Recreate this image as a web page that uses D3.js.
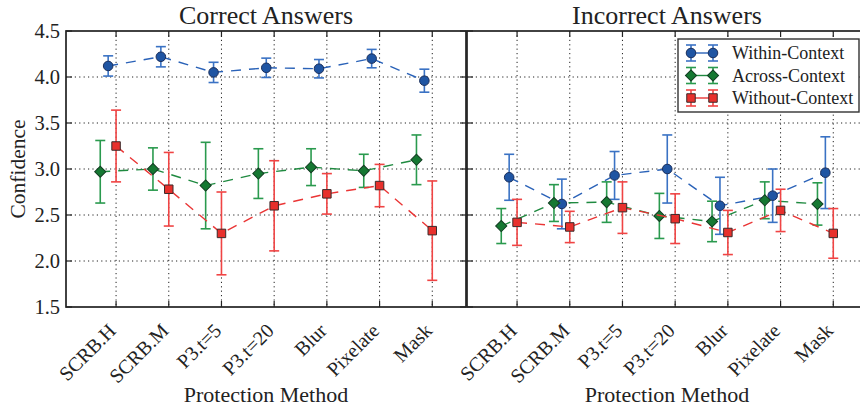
<!DOCTYPE html>
<html>
<head>
<meta charset="utf-8">
<script src="https://cdn.jsdelivr.net/npm/d3@7/dist/d3.min.js"></script>
<style>
  html, body { margin: 0; padding: 0; background: #fff; }
  svg { display: block; }
  text { font-family: "Liberation Serif", "DejaVu Serif", serif; fill: #222; }
</style>
</head>
<body>
<svg id="chart" width="860" height="410"></svg>
<script>
// Protection methods along the x axis
const methods = ["SCRB.H", "SCRB.M", "P3.t=5", "P3.t=20", "Blur", "Pixelate", "Mask"];
const yTickValues = [1.5, 2.0, 2.5, 3.0, 3.5, 4.0, 4.5];
const seriesNames = ["Within-Context", "Across-Context", "Without-Context"];

// Mean confidence and error half-widths, correct answers
const withinCorrect = [4.12, 4.22, 4.05, 4.10, 4.09, 4.20, 3.96];
const withinCorrectErr = [0.11, 0.11, 0.11, 0.105, 0.10, 0.10, 0.125];
const acrossCorrect = [2.97, 3.00, 2.82, 2.95, 3.02, 2.98, 3.10];
const acrossCorrectErr = [0.34, 0.23, 0.47, 0.27, 0.20, 0.18, 0.27];
const withoutCorrect = [3.25, 2.78, 2.30, 2.60, 2.73, 2.82, 2.33];
const withoutCorrectErr = [0.39, 0.40, 0.45, 0.49, 0.22, 0.23, 0.54];

// Mean confidence and error half-widths, incorrect answers
const withinIncorrect = [2.91, 2.62, 2.93, 3.00, 2.60, 2.71, 2.96];
const withinIncorrectErr = [0.25, 0.27, 0.26, 0.37, 0.31, 0.29, 0.39];
const acrossIncorrect = [2.38, 2.63, 2.64, 2.49, 2.43, 2.66, 2.62];
const acrossIncorrectErr = [0.19, 0.20, 0.22, 0.245, 0.22, 0.20, 0.23];
const withoutIncorrect = [2.42, 2.37, 2.58, 2.46, 2.31, 2.55, 2.30];
const withoutIncorrectErr = [0.25, 0.17, 0.28, 0.27, 0.24, 0.23, 0.27];

// square diamond: a square symbol turned by 45 degrees
const styles = [
  { line: "#2a62b8", err: "#3a72c4", fill: "#1f55a3", edge: "#1b2f5c", shape: d3.symbolCircle, size: 72, rot: 0, offset: -0.15 },
  { line: "#1f8a40", err: "#2a9a4e", fill: "#157832", edge: "#123d22", shape: d3.symbolSquare, size: 62, rot: 45, offset: -0.30 },
  { line: "#ea3535", err: "#f04444", fill: "#e8302c", edge: "#3a2a2a", shape: d3.symbolSquare, size: 72, rot: 0, offset: 0 }
];

const panels = [
  { title: "Correct Answers", x0: 66, yLabels: true,
    series: [[withinCorrect, withinCorrectErr], [acrossCorrect, acrossCorrectErr], [withoutCorrect, withoutCorrectErr]] },
  { title: "Incorrect Answers", x0: 467, yLabels: false,
    series: [[withinIncorrect, withinIncorrectErr], [acrossIncorrect, acrossIncorrectErr], [withoutIncorrect, withoutIncorrectErr]] }
];

const svg = d3.select("#chart");
const plotTop = 31, plotBottom = 307, panelW = 400;
const y = d3.scaleLinear().domain([1.5, 4.5]).range([plotBottom, plotTop]);

panels.forEach((p, pi) => {
  const x = d3.scaleLinear().domain([-0.95, 6.64]).range([p.x0, p.x0 + panelW]);
  const g = svg.append("g");

  // dotted grid
  g.selectAll(".vgrid").data(methods).join("line")
    .attr("x1", (d, i) => x(i)).attr("x2", (d, i) => x(i))
    .attr("y1", plotTop).attr("y2", plotBottom)
    .attr("stroke", "#222").attr("stroke-width", 1).attr("stroke-dasharray", "1.2,3.2");
  g.selectAll(".hgrid").data(yTickValues.slice(1, -1)).join("line")
    .attr("x1", p.x0).attr("x2", p.x0 + panelW)
    .attr("y1", d => y(d)).attr("y2", d => y(d))
    .attr("stroke", "#222").attr("stroke-width", 1).attr("stroke-dasharray", "1.2,3.2");

  // inward ticks on all four sides
  const tickLen = 6;
  methods.forEach((m, i) => {
    g.append("line").attr("x1", x(i)).attr("x2", x(i)).attr("y1", plotBottom).attr("y2", plotBottom - tickLen)
      .attr("stroke", "#222").attr("stroke-width", 1.2);
    g.append("line").attr("x1", x(i)).attr("x2", x(i)).attr("y1", plotTop).attr("y2", plotTop + tickLen)
      .attr("stroke", "#222").attr("stroke-width", 1.2);
  });
  yTickValues.forEach(v => {
    g.append("line").attr("x1", p.x0).attr("x2", p.x0 + tickLen).attr("y1", y(v)).attr("y2", y(v))
      .attr("stroke", "#222").attr("stroke-width", 1.2);
    g.append("line").attr("x1", p.x0 + panelW).attr("x2", p.x0 + panelW - tickLen).attr("y1", y(v)).attr("y2", y(v))
      .attr("stroke", "#222").attr("stroke-width", 1.2);
  });

  // series: dashed line, error bars, markers
  p.series.forEach((s, si) => {
    const st = styles[si];
    const vals = s[0], errs = s[1];
    const pts = vals.map((v, i) => ({ i, v, e: errs[i] }));
    const px = d => x(d.i + st.offset);

    g.append("path").datum(pts)
      .attr("d", d3.line().x(px).y(d => y(d.v)))
      .attr("fill", "none").attr("stroke", st.line).attr("stroke-width", 1.4)
      .attr("stroke-dasharray", "10,8");

    const eb = g.append("g").attr("stroke", st.err).attr("stroke-width", 1.6);
    eb.selectAll(".bar").data(pts).join("line")
      .attr("x1", px).attr("x2", px)
      .attr("y1", d => y(d.v - d.e)).attr("y2", d => y(d.v + d.e));
    eb.selectAll(".capT").data(pts).join("line")
      .attr("x1", d => px(d) - 5).attr("x2", d => px(d) + 5)
      .attr("y1", d => y(d.v + d.e)).attr("y2", d => y(d.v + d.e));
    eb.selectAll(".capB").data(pts).join("line")
      .attr("x1", d => px(d) - 5).attr("x2", d => px(d) + 5)
      .attr("y1", d => y(d.v - d.e)).attr("y2", d => y(d.v - d.e));

    g.selectAll(".mk" + si).data(pts).join("path")
      .attr("d", d3.symbol().type(st.shape).size(st.size))
      .attr("transform", d => `translate(${px(d)},${y(d.v)}) rotate(${st.rot})`)
      .attr("fill", st.fill).attr("stroke", st.edge).attr("stroke-width", 1);
  });

  // frame
  g.append("rect").attr("x", p.x0).attr("y", plotTop).attr("width", panelW).attr("height", plotBottom - plotTop)
    .attr("fill", "none").attr("stroke", "#222").attr("stroke-width", 1.7);

  // y tick labels
  if (p.yLabels) {
    g.selectAll(".ylab").data(yTickValues).join("text")
      .attr("x", p.x0 - 6).attr("y", d => y(d)).attr("dy", "0.35em")
      .attr("text-anchor", "end").attr("font-size", 20.5)
      .text(d => d.toFixed(1));
  }

  // rotated x tick labels
  g.selectAll(".xlab").data(methods).join("text")
    .attr("transform", (d, i) => `translate(${x(i) + 1},${plotBottom + 25}) rotate(-45)`)
    .attr("text-anchor", "end").attr("font-size", 20)
    .text(d => d);

  // titles
  g.append("text").attr("x", p.x0 + 200).attr("y", 24).attr("text-anchor", "middle")
    .attr("font-size", 26).text(p.title);
  g.append("text").attr("x", p.x0 + 200).attr("y", 402).attr("text-anchor", "middle")
    .attr("font-size", 22).text("Protection Method");
});

// y axis title
svg.append("text").attr("transform", `translate(25,${(plotTop + plotBottom) / 2}) rotate(-90)`)
  .attr("text-anchor", "middle").attr("font-size", 21.5).text("Confidence");

// legend in the right panel
const lg = svg.append("g").attr("transform", "translate(678,39)");
lg.append("rect").attr("width", 181).attr("height", 73).attr("fill", "#fff")
  .attr("stroke", "#333").attr("stroke-width", 1.4);
seriesNames.forEach((name, i) => {
  const st = styles[i];
  const ry = 14 + i * 22.5;
  const row = lg.append("g").attr("transform", `translate(0,${ry})`);
  row.append("line").attr("x1", 13).attr("x2", 35).attr("y1", 0).attr("y2", 0)
    .attr("stroke", st.line).attr("stroke-width", 1.4);
  [13, 35].forEach(cx => {
    row.append("line").attr("x1", cx).attr("x2", cx).attr("y1", -8).attr("y2", 8)
      .attr("stroke", st.err).attr("stroke-width", 1.6);
    row.append("line").attr("x1", cx - 5).attr("x2", cx + 5).attr("y1", -8).attr("y2", -8)
      .attr("stroke", st.err).attr("stroke-width", 1.6);
    row.append("line").attr("x1", cx - 5).attr("x2", cx + 5).attr("y1", 8).attr("y2", 8)
      .attr("stroke", st.err).attr("stroke-width", 1.6);
    row.append("path").attr("d", d3.symbol().type(st.shape).size(st.size)())
      .attr("transform", `translate(${cx},0) rotate(${st.rot})`)
      .attr("fill", st.fill).attr("stroke", st.edge).attr("stroke-width", 1);
  });
  row.append("text").attr("x", 54).attr("y", 0).attr("dy", "0.35em")
    .attr("font-size", 18).text(name);
});
</script>
</body>
</html>
